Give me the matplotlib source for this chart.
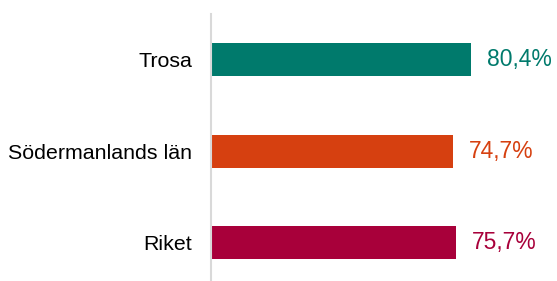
import matplotlib.pyplot as plt

kategorier = ["Trosa", "Södermanlands län", "Riket"]
andelar = [80.4, 74.7, 75.7]
etiketter = ["80,4%", "74,7%", "75,7%"]
farger = ["#007A6C", "#D64010", "#A8003A"]

plt.rcParams['font.family'] = ['Liberation Sans', 'DejaVu Sans']

fig = plt.figure(figsize=(5.57, 2.81), dpi=100)
ax = fig.add_axes([211 / 557, -7.5 / 281, 324 / 557, 274.5 / 281])

y = range(len(kategorier))
ax.barh(y, andelar, height=0.357, color=farger)
for i, (v, t, c) in enumerate(zip(andelar, etiketter, farger)):
    ax.annotate(t, (v, i), xytext=(11.5, 0), textcoords='offset points',
                va='center', ha='left', color=c, fontsize=16.5)

ax.set_xlim(0, 100)
ax.set_ylim(2.5, -0.5)
ax.set_yticks(list(y))
ax.set_yticklabels(kategorier, fontsize=15.4)
ax.tick_params(axis='y', length=0, pad=13.5)
ax.set_xticks([])
for s in ['top', 'right', 'bottom']:
    ax.spines[s].set_visible(False)
ax.spines['left'].set_color('#D9D9D9')
ax.spines['left'].set_linewidth(1.5)

fig.savefig("out.png", dpi=100)
